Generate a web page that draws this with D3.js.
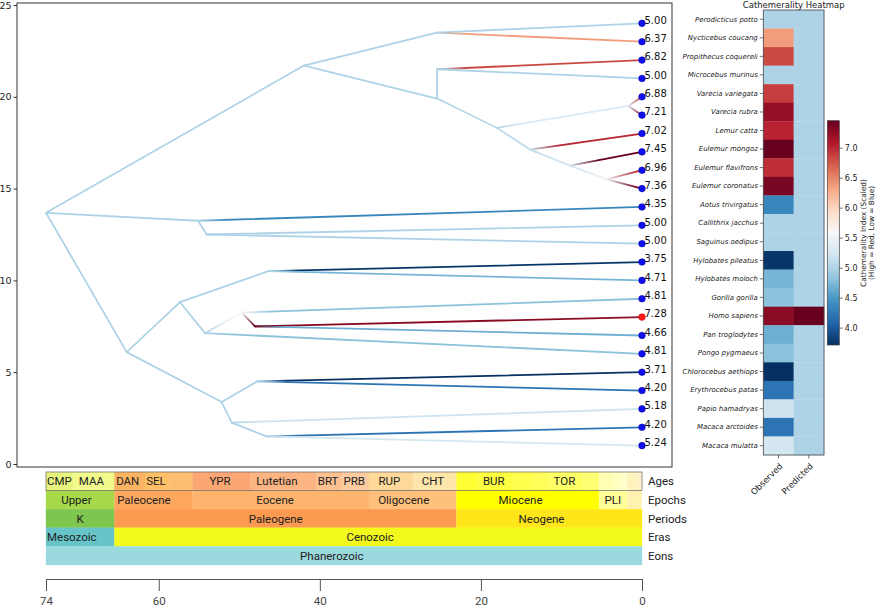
<!DOCTYPE html>
<html><head><meta charset="utf-8">
<script src="https://cdn.jsdelivr.net/npm/d3@7"></script>
<style>body{margin:0;background:#fff} svg{display:block}</style>
</head><body>
<svg id="chart" width="877" height="608"></svg>
<script>
// ---------- DATA ----------
const tipNames = ["Perodicticus potto","Nycticebus coucang","Propithecus coquereli","Microcebus murinus",
  "Varecia variegata","Varecia rubra","Lemur catta","Eulemur mongoz","Eulemur flavifrons","Eulemur coronatus",
  "Aotus trivirgatus","Callithrix jacchus","Saguinus oedipus","Hylobates pileatus","Hylobates moloch",
  "Gorilla gorilla","Homo sapiens","Pan troglodytes","Pongo pygmaeus","Chlorocebus aethiops",
  "Erythrocebus patas","Papio hamadryas","Macaca arctoides","Macaca mulatta"];
const tipValues = [5.00,6.37,6.82,5.00,6.88,7.21,7.02,7.45,6.96,7.36,4.35,5.00,5.00,3.75,4.71,4.81,7.28,4.66,4.81,3.71,4.20,5.18,4.20,5.24];
const predictedValues = [5.0,5.0,5.0,5.0,5.0,5.0,5.0,5.0,5.0,5.0,5.0,5.0,5.0,5.0,5.0,5.0,7.6,5.0,5.0,5.0,5.0,5.0,5.0,5.0];
const heatColumns = ["Observed","Predicted"];

// internal nodes of the tree (ages in Ma), estimated ancestral values, children ("t#" = tip index)
const nodeIds    = ["root","A","A1","A2","A2a","A2b","V","A2c","A2d","A2e","B","B1","C","C1","H","C1b","X","Y","C2","C2a","C2b","C2c"];
const nodeAges   = [74.0, 41.97, 25.49, 25.45, 25.45, 18.04, 1.70, 13.91, 8.94, 4.38, 55.13, 54.05, 63.98, 57.36, 46.40, 54.26, 49.70, 48.05, 52.19, 47.77, 50.94, 46.60];
const nodeValues = [5.0, 5.0, 5.0, 5.0, 5.0, 5.05, 5.3, 5.1, 5.2, 5.45, 5.0, 5.0, 5.0, 5.0, 5.0, 5.0, 5.6, 7.45, 5.0, 5.0, 5.0, 5.0];
const nodeChildren = [["A","B","C"],["A1","A2"],["t0","t1"],["A2a","A2b"],["t2","t3"],["V","A2c"],["t4","t5"],
  ["t6","A2d"],["t7","A2e"],["t8","t9"],["t10","B1"],["t11","t12"],["C1","C2"],["H","C1b"],["t13","t14"],
  ["X","t18"],["t15","Y"],["t16","t17"],["C2a","C2b"],["t19","t20"],["t21","C2c"],["t22","t23"]];

const yTicks = [0,5,10,15,20,25];
const timeTicks = [74,60,40,20,0];
const cbarTicks = [4.0,4.5,5.0,5.5,6.0,6.5,7.0];

// geological time scale (Ma)
const ageNames  = ["CMP","MAA","DAN","SEL","","YPR","Lutetian","BRT","PRB","RUP","CHT","","BUR","","","TOR","","","","","","","",""];
const ageStarts = [83.5,70.6,65.5,61.7,58.7,55.8,48.6,40.4,37.2,33.9,28.4,23.03,20.43,15.97,13.65,11.61,7.246,5.332,3.6,2.588,1.806,0.781,0.126,0.0117];
const ageEnds   = [70.6,65.5,61.7,58.7,55.8,48.6,40.4,37.2,33.9,28.4,23.03,20.43,15.97,13.65,11.61,7.246,5.332,3.6,2.588,1.806,0.781,0.126,0.0117,0];
const ageColors = ["#E6F47F","#F2FA8C","#FDB462","#FEBF65","#FDBF6F","#FCA773","#FCB482","#FDC091","#FDCDA1","#FED99A","#FEE6AA",
  "#FFFF33","#FFFF41","#FFFF4D","#FFFF59","#FFFF66","#FFFF73","#FFFFB3","#FFFFBF","#FFFFCC","#FFF2BA","#FFF2C7","#FFF2D3","#FEF2E0"];
const epochNames  = ["Upper","Paleocene","Eocene","Oligocene","Miocene","PLI","",""];
const epochStarts = [99.6,65.5,55.8,33.9,23.03,5.332,1.806,0.0117];
const epochEnds   = [65.5,55.8,33.9,23.03,5.332,1.806,0.0117,0];
const epochColors = ["#A6D84A","#FDA75F","#FDB46C","#FEC07A","#FFFF00","#FFFF99","#FFF2AE","#FEF2E0"];
const periodNames  = ["K","Paleogene","Neogene"];
const periodStarts = [145.5,65.5,23.03];
const periodEnds   = [65.5,23.03,0];
const periodColors = ["#7FC64E","#FD9A52","#FFE619"];
const eraNames  = ["Mesozoic","Cenozoic"];
const eraStarts = [251.0,65.5];
const eraEnds   = [65.5,0];
const eraColors = ["#67C5CA","#F2F91D"];
const eonNames  = ["Phanerozoic"];
const eonStarts = [542.0];
const eonEnds   = [0];
const eonColors = ["#9AD9DD"];
const rowLabels = ["Ages","Epochs","Periods","Eras","Eons"];

// ColorBrewer RdBu (reversed below), linearly interpolated like matplotlib
const rdbu = ["#67001f","#b2182b","#d6604d","#f4a582","#fddbc7","#f7f7f7","#d1e5f0","#92c5de","#4393c3","#2166ac","#053061"];

// ---------- DRAW ----------
const svg = d3.select("#chart");
const defs = svg.append("defs");
const FONT = "DejaVu Sans, sans-serif";
const GFONT = "Roboto, sans-serif";

const xT = d3.scaleLinear().domain([74,0]).range([46,642]);
const yT = d3.scaleLinear().domain([0,25]).range([464,5]);
const vmin = d3.min(tipValues), vmax = d3.max(tipValues);
const cnorm = d3.scaleLinear().domain([vmin,vmax]).range([0,1]).clamp(true);
const rdbuR = d3.scaleLinear().domain(d3.range(11).map(i=>i/10)).range(rdbu.slice().reverse()).interpolate(d3.interpolateRgb);
const cmap = v => rdbuR(cnorm(v));

function fitText(sel, target){
  sel.each(function(){
    const fs = parseFloat(this.getAttribute("font-size"));
    const w = this.getComputedTextLength();
    if(w>0) this.setAttribute("font-size", fs*target/w);
  });
}

// build tree
const nodes = {};
tipNames.forEach((n,i)=>nodes["t"+i]={id:"t"+i, age:0, value:tipValues[i], children:[], tip:i});
nodeIds.forEach((id,i)=>nodes[id]={id, age:nodeAges[i], value:nodeValues[i], children:nodeChildren[i]});
function layoutY(id){
  const n = nodes[id];
  if(n.tip!==undefined){ n.y = tipNames.length - n.tip; return n.y; }
  n.y = d3.mean(n.children, c=>layoutY(c)); return n.y;
}
layoutY("root");
const edges = [];
nodeIds.forEach(id=>nodes[id].children.forEach(c=>edges.push({p:nodes[id], c:nodes[c]})));

const treeG = svg.append("g");
edges.forEach((e,i)=>{
  const x1=xT(e.p.age), y1=yT(e.p.y), x2=xT(e.c.age), y2=yT(e.c.y);
  const len = Math.hypot(x2-x1,y2-y1);
  const f = Math.min(1, 30/len);
  const g = defs.append("linearGradient").attr("id","g"+i).attr("gradientUnits","userSpaceOnUse")
    .attr("x1",x1).attr("y1",y1).attr("x2",x2).attr("y2",y2);
  g.append("stop").attr("offset",0).attr("stop-color",cmap(e.p.value));
  g.append("stop").attr("offset",f).attr("stop-color",cmap(e.c.value));
  g.append("stop").attr("offset",1).attr("stop-color",cmap(e.c.value));
  treeG.append("line").attr("x1",x1).attr("y1",y1).attr("x2",x2+(x1===x2?0.001:0)).attr("y2",y2)
    .attr("stroke",`url(#g${i})`).attr("stroke-width",1.8).attr("stroke-linecap","round");
});
// tips
treeG.selectAll("circle.tip").data(tipNames).join("circle")
  .attr("cx",xT(0)).attr("cy",(d,i)=>yT(tipNames.length-i)).attr("r",3.3)
  .attr("fill",d=>d==="Homo sapiens"?"#ff1a1a":"#1010ee")
  .attr("stroke",d=>d==="Homo sapiens"?"#cc0000":"#0000aa").attr("stroke-width",0.6);
treeG.selectAll("text.val").data(tipValues).join("text")
  .attr("x",xT(0)+2.5).attr("y",(d,i)=>yT(tipNames.length-i)+0.3)
  .attr("font-family",FONT).attr("font-size",10).attr("fill","#111")
  .text(d=>d.toFixed(2));

svg.append("rect").attr("x",17).attr("y",3).attr("width",655).attr("height",464)
  .attr("fill","none").attr("stroke","#333").attr("stroke-width",1);
const yAx = svg.append("g").attr("transform","translate(17,0)")
  .call(d3.axisLeft(yT).tickValues(yTicks).tickSize(3.5).tickPadding(2));
yAx.select(".domain").remove();
yAx.selectAll("text").attr("font-family",FONT).attr("font-size",9.5).attr("fill","#222");
yAx.selectAll("line").attr("stroke","#333");

// geological time scale
const rows = [
  {names:ageNames, starts:ageStarts, ends:ageEnds, colors:ageColors},
  {names:epochNames, starts:epochStarts, ends:epochEnds, colors:epochColors},
  {names:periodNames, starts:periodStarts, ends:periodEnds, colors:periodColors},
  {names:eraNames, starts:eraStarts, ends:eraEnds, colors:eraColors},
  {names:eonNames, starts:eonStarts, ends:eonEnds, colors:eonColors}];
const rowTop = 472, rowH = 18.6;
const [dmax, dmin] = xT.domain();
rows.forEach((r,ri)=>{
  const g = svg.append("g");
  const y0 = rowTop + ri*rowH;
  r.names.forEach((nm,i)=>{
    const s = Math.min(r.starts[i], dmax), e = Math.max(r.ends[i], dmin);
    if(s<=e) return;
    const xa = xT(s), xb = xT(e);
    g.append("rect").attr("x",xa).attr("y",y0).attr("width",xb-xa).attr("height",rowH)
      .attr("fill",r.colors[i]).attr("stroke",r.colors[i]).attr("stroke-width",0.3);
  });
  r.names.forEach((nm,i)=>{
    if(!nm) return;
    const s = Math.min(r.starts[i], dmax), e = Math.max(r.ends[i], dmin);
    const xa = xT(s), xb = xT(e);
    const t = g.append("text").attr("y",y0+rowH/2).attr("dy","0.36em")
      .attr("font-family",GFONT).attr("font-size",11.5).attr("fill","#222")
      .attr("text-anchor","middle").text(nm);
    const w = t.node().getComputedTextLength();
    let cx = (xa+xb)/2 - Math.max(0,w-15)*0.25;
    if(cx - w/2 < xa+1) cx = xa+1+w/2;
    t.attr("x",cx);
  });
  svg.append("text").attr("x",648).attr("y",y0+rowH/2).attr("dy","0.36em")
    .attr("font-family",GFONT).attr("font-size",11.5).attr("fill","#222").text(rowLabels[ri]);
});
svg.append("rect").attr("x",xT(dmax)).attr("y",rowTop).attr("width",xT(dmin)-xT(dmax)).attr("height",rowH)
  .attr("fill","none").attr("stroke","#666").attr("stroke-width",0.7);

// time axis
const tAx = svg.append("g").attr("transform","translate(0,579)")
  .call(d3.axisBottom(xT).tickValues(timeTicks).tickSize(12).tickPadding(6).tickSizeOuter(0).tickFormat(d3.format("d")));
tAx.select(".domain").attr("stroke","#555");
tAx.selectAll("line").attr("stroke","#555");
tAx.selectAll("text").attr("font-family",GFONT).attr("font-size",11.5).attr("fill","#444");

// heatmap
const hx = d3.scaleBand().domain(heatColumns).range([763.3,824]);
const hy = d3.scaleBand().domain(tipNames).range([10,455]);
const hm = svg.append("g");
const cells = [];
tipNames.forEach((n,i)=>{ cells.push({r:n,c:"Observed",v:tipValues[i]}); cells.push({r:n,c:"Predicted",v:predictedValues[i]}); });
hm.selectAll("rect.cell").data(cells).join("rect")
  .attr("x",d=>hx(d.c)).attr("y",d=>hy(d.r)).attr("width",hx.bandwidth()+0.3).attr("height",hy.bandwidth()+0.3)
  .attr("fill",d=>cmap(d.v));
hm.append("rect").attr("x",763.3).attr("y",10).attr("width",824-763.3).attr("height",445)
  .attr("fill","none").attr("stroke","#444").attr("stroke-width",0.8);
const hyAx = hm.append("g").attr("transform","translate(763.3,0)")
  .call(d3.axisLeft(hy).tickSize(3.5).tickPadding(2));
hyAx.select(".domain").remove();
hyAx.selectAll("line").attr("stroke","#333").attr("stroke-width",0.7);
const rowTexts = hyAx.selectAll("text").attr("font-family",FONT).attr("font-size",8).attr("font-style","italic").attr("fill","#222");
// scale so that "Perodicticus potto" is ~63px wide, as in the reference
{
  const ref = rowTexts.filter(d=>d===tipNames[0]).node();
  const k = 63/ref.getComputedTextLength();
  rowTexts.attr("font-size",8*k);
}
const hxAx = hm.append("g").attr("transform","translate(0,455)")
  .call(d3.axisBottom(hx).tickSize(3.5).tickPadding(2));
hxAx.select(".domain").remove();
hxAx.selectAll("line").attr("stroke","#333").attr("stroke-width",0.7);
const colTexts = hxAx.selectAll("text").attr("font-family",FONT).attr("font-size",9).attr("fill","#222")
  .attr("text-anchor","end").attr("dy","0.3em").attr("transform","translate(-1,6) rotate(-45)");
{
  const ref = colTexts.filter(d=>d==="Observed").node();
  const k = 41/ref.getComputedTextLength();
  colTexts.attr("font-size",9*k);
}
const title = hm.append("text").attr("x",793.7).attr("y",7.5).attr("text-anchor","middle")
  .attr("font-family",FONT).attr("font-size",8.5).attr("fill","#222").text("Cathemerality Heatmap");
fitText(title, 102);

// colorbar
const cy = d3.scaleLinear().domain([vmin,vmax]).range([345,120.7]);
const cg = defs.append("linearGradient").attr("id","cbar").attr("x1",0).attr("y1",1).attr("x2",0).attr("y2",0);
d3.range(0,1.0001,0.05).forEach(t=>cg.append("stop").attr("offset",t).attr("stop-color",cmap(vmin+t*(vmax-vmin))));
svg.append("rect").attr("x",827.3).attr("y",120.7).attr("width",12).attr("height",345-120.7)
  .attr("fill","url(#cbar)").attr("stroke","#444").attr("stroke-width",0.7);
const cAx = svg.append("g").attr("transform","translate(839.3,0)")
  .call(d3.axisRight(cy).tickValues(cbarTicks).tickSize(3.5).tickPadding(2).tickFormat(d3.format(".1f")));
cAx.select(".domain").remove();
cAx.selectAll("line").attr("stroke","#333").attr("stroke-width",0.7);
cAx.selectAll("text").attr("font-family",FONT).attr("font-size",8).attr("fill","#222");
const cl1 = svg.append("text").attr("transform","translate(865.5,233) rotate(-90)").attr("text-anchor","middle")
  .attr("font-family",FONT).attr("font-size",7.4).attr("fill","#222").text("Cathemerality Index (Scaled)");
const cl2 = svg.append("text").attr("transform","translate(874,233) rotate(-90)").attr("text-anchor","middle")
  .attr("font-family",FONT).attr("font-size",7.4).attr("fill","#222").text("(High = Red, Low = Blue)");
fitText(cl1, 108);
cl2.attr("font-size", cl1.attr("font-size"));
</script>
</body></html>
